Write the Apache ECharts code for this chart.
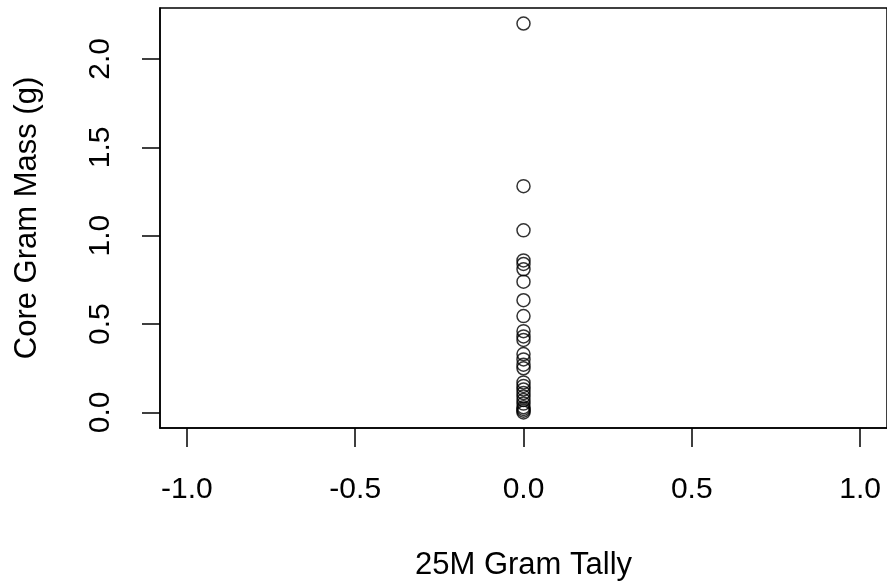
<!DOCTYPE html>
<html>
<head>
<meta charset="utf-8">
<script src="https://cdn.jsdelivr.net/npm/echarts@6/dist/echarts.min.js"></script>
<style>html,body{margin:0;padding:0;background:#fff;}#c{width:887px;height:586px;}</style>
</head>
<body>
<div id="c"></div>
<script>
const tallyValues = [0,0,0,0,0,0,0,0,0,0,0,0,0,0,0,0,0,0,0,0,0,0,0,0,0,0,0];
const massValues = [2.20,1.28,1.03,0.86,0.84,0.81,0.74,0.635,0.545,0.46,0.43,0.41,0.33,0.30,0.27,0.25,0.17,0.15,0.13,0.11,0.09,0.07,0.05,0.03,0.02,0.01,0.0];
const xTicks = [-1.0,-0.5,0.0,0.5,1.0];
const yTicks = [0.0,0.5,1.0,1.5,2.0];
const xTitle = '25M Gram Tally';
const yTitle = 'Core Gram Mass (g)';

const points = massValues.map((m,i)=>[tallyValues[i], m]);
const font = 'Liberation Sans, Arial, sans-serif';
const chart = echarts.init(document.getElementById('c'));
chart.setOption({
  animation:false,
  backgroundColor:'#fff',
  grid:{left:160,top:8,right:-2,bottom:158,show:true,borderColor:'#000',borderWidth:1.5,backgroundColor:'transparent'},
  xAxis:{
    type:'value',min:-1.08,max:1.08,
    name:xTitle,nameLocation:'middle',nameGap:122,
    nameTextStyle:{fontFamily:font,fontSize:31,color:'#000'},
    axisLine:{show:true,onZero:false,lineStyle:{color:'#000',width:1.5}},
    axisTick:{show:true,length:19,lineStyle:{color:'#000',width:1.5},customValues:xTicks},
    axisLabel:{margin:47,fontFamily:font,fontSize:30,color:'#000',customValues:xTicks,formatter:v=>v.toFixed(1)},
    splitLine:{show:false}
  },
  yAxis:{
    type:'value',min:-0.088,max:2.288,
    name:yTitle,nameLocation:'middle',nameGap:117,nameRotate:90,
    nameTextStyle:{fontFamily:font,fontSize:31,color:'#000'},
    axisLine:{show:true,onZero:false,lineStyle:{color:'#000',width:1.5}},
    axisTick:{show:true,length:18,lineStyle:{color:'#000',width:1.5},customValues:yTicks},
    axisLabel:{margin:44,rotate:90,fontFamily:font,fontSize:30,color:'#000',customValues:yTicks,formatter:v=>v.toFixed(1)},
    splitLine:{show:false}
  },
  series:[{
    type:'scatter',data:points,symbol:'circle',symbolSize:13,
    itemStyle:{color:'rgba(0,0,0,0)',borderColor:'#000',borderWidth:1.5},
    emphasis:{disabled:true}
  }]
});
</script>
</body>
</html>
